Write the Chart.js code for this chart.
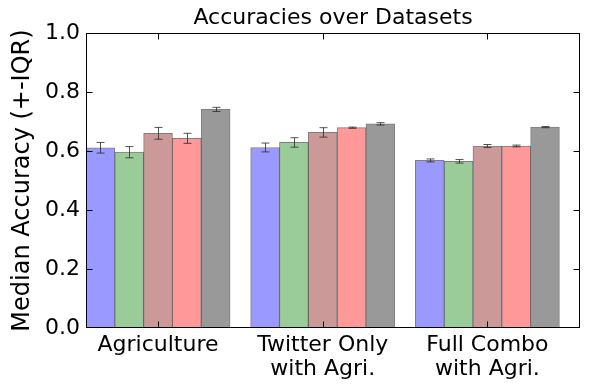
<!DOCTYPE html>
<html>
<head>
<meta charset="utf-8">
<script src="https://cdn.jsdelivr.net/npm/chart.js@4"></script>
<style>
    html, body { margin: 0; padding: 0; background: #ffffff; }
    #chart { display: block; }
</style>
</head>
<body>
<canvas id="chart" width="591" height="387"></canvas>
<script>
// Data (medians and +-IQR half widths)
const groupLabels = [['Agriculture'], ['Twitter Only', 'with Agri.'], ['Full Combo', 'with Agri.']];
const seriesNames = ['Method 1', 'Method 2', 'Method 3', 'Method 4', 'Method 5'];

const medianBlue = [0.611, 0.612, 0.568];
const medianGreen = [0.596, 0.629, 0.565];
const medianBrown = [0.660, 0.663, 0.617];
const medianPink = [0.643, 0.679, 0.617];
const medianGray = [0.741, 0.692, 0.681];

const iqrBlue = [0.018, 0.015, 0.005];
const iqrGreen = [0.019, 0.016, 0.006];
const iqrBrown = [0.020, 0.016, 0.005];
const iqrPink = [0.017, 0.002, 0.003];
const iqrGray = [0.007, 0.004, 0.002];

const yTicks = [0, 0.2, 0.4, 0.6, 0.8, 1.0];

const medians = [medianBlue, medianGreen, medianBrown, medianPink, medianGray];
const iqrs = [iqrBlue, iqrGreen, iqrBrown, iqrPink, iqrGray];
const colors = ['#9999ff', '#99cc99', '#cc9999', '#ff9999', '#999999'];

// bar layout in axis units, like matplotlib's index + k * width
const barWidth = 0.175;
const groupCenter = barWidth * seriesNames.length / 2;

const datasets = seriesNames.map((name, k) => ({
    label: name,
    data: medians[k].map((v, i) => ({ x: i + barWidth * (k + 0.5), y: v })),
    errors: iqrs[k],
    backgroundColor: colors[k],
    borderColor: 'rgba(0, 0, 0, 0.5)',
    borderWidth: 1,
    borderSkipped: false,
    grouped: false,
    categoryPercentage: 1.0,
    barPercentage: 1.0
}));

// error bars with caps
const errorBars = {
    id: 'errorBars',
    afterDatasetsDraw(chart) {
        const ctx = chart.ctx;
        const y = chart.scales.y;
        ctx.save();
        ctx.strokeStyle = 'rgba(40, 40, 40, 0.8)';
        ctx.lineWidth = 1;
        chart.data.datasets.forEach((ds, k) => {
            const meta = chart.getDatasetMeta(k);
            meta.data.forEach((bar, i) => {
                const v = ds.data[i].y;
                const e = ds.errors[i];
                const x = Math.round(bar.x) + 0.5;
                const top = y.getPixelForValue(v + e);
                const bot = y.getPixelForValue(v - e);
                ctx.beginPath();
                ctx.moveTo(x, top);
                ctx.lineTo(x, bot);
                ctx.moveTo(x - 4, top);
                ctx.lineTo(x + 4, top);
                ctx.moveTo(x - 4, bot);
                ctx.lineTo(x + 4, bot);
                ctx.stroke();
            });
        });
        ctx.restore();
    }
};

// matplotlib style frame with inward ticks on all four sides
const frame = {
    id: 'frame',
    afterDraw(chart) {
        const { ctx, chartArea: a, scales } = chart;
        const l = Math.round(a.left) + 0.5, r = Math.round(a.right) - 0.5;
        const t = Math.round(a.top) + 0.5, b = Math.round(a.bottom) - 0.5;
        const len = 6;
        ctx.save();
        ctx.strokeStyle = '#000000';
        ctx.lineWidth = 1;
        ctx.beginPath();
        scales.y.ticks.forEach(tk => {
            if (tk.value <= scales.y.min || tk.value >= scales.y.max) return;
            const py = Math.round(scales.y.getPixelForValue(tk.value)) + 0.5;
            ctx.moveTo(l, py); ctx.lineTo(l + len, py);
            ctx.moveTo(r, py); ctx.lineTo(r - len, py);
        });
        scales.x.ticks.forEach(tk => {
            const px = Math.round(scales.x.getPixelForValue(tk.value)) + 0.5;
            ctx.moveTo(px, b); ctx.lineTo(px, b - len);
            ctx.moveTo(px, t); ctx.lineTo(px, t + len);
        });
        ctx.stroke();
        ctx.strokeRect(l, t, r - l, b - t);
        ctx.restore();
    }
};

const fontFamily = "'DejaVu Sans', sans-serif";

new Chart(document.getElementById('chart'), {
    type: 'bar',
    data: { datasets },
    options: {
        responsive: false,
        animation: false,
        layout: { padding: { left: 0, right: 11, top: 0, bottom: 0 } },
        plugins: {
            legend: { display: false },
            tooltip: { enabled: false },
            title: {
                display: true,
                fullSize: false,
                text: 'Accuracies over Datasets',
                color: '#000000',
                font: { family: fontFamily, size: 22, weight: 'normal', lineHeight: 1.2 },
                padding: { top: 5, bottom: 1.6 }
            }
        },
        scales: {
            x: {
                type: 'linear',
                min: 0,
                max: groupLabels.length,
                offset: false,
                grid: { display: false, drawTicks: false },
                border: { display: false },
                afterBuildTicks: scale => {
                    scale.ticks = groupLabels.map((_, i) => ({ value: i + groupCenter }));
                },
                afterFit: scale => { scale.height = 59; },
                ticks: {
                    autoSkip: false,
                    maxRotation: 0,
                    padding: 5,
                    color: '#000000',
                    font: { family: fontFamily, size: 22, lineHeight: 1.1 },
                    callback: (value, index) => groupLabels[index]
                }
            },
            y: {
                min: 0,
                max: 1,
                afterBuildTicks: scale => {
                    scale.ticks = yTicks.map(v => ({ value: v }));
                },
                afterFit: scale => { scale.width = 86; },
                grid: { display: false, drawTicks: false },
                border: { display: false },
                ticks: {
                    padding: 6,
                    color: '#000000',
                    font: { family: fontFamily, size: 22 },
                    callback: v => v.toFixed(1)
                },
                title: {
                    display: true,
                    text: 'Median Accuracy (+-IQR)',
                    color: '#000000',
                    font: { family: fontFamily, size: 24, lineHeight: 1.2 },
                    padding: { top: 8, bottom: 0 }
                }
            }
        }
    },
    plugins: [errorBars, frame]
});
</script>
</body>
</html>
